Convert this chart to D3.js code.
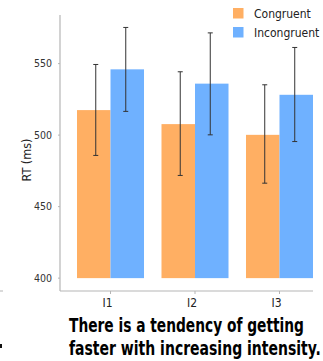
<!DOCTYPE html>
<head>
<meta charset="utf-8">
<style>
body { margin: 0; background: #fff; }
text { font-family: "DejaVu Sans Condensed", "DejaVu Sans", sans-serif; font-stretch: condensed; }
</style>
</head>
<body>
<script src="https://d3js.org/d3.v7.min.js"></script>
<script>
var width = 323, height = 361;

// data
var groups = ["I1", "I2", "I3"];
var series = ["Congruent", "Incongruent"];
var means = {
  Congruent:   [517.5, 507.7, 500.2],
  Incongruent: [546.0, 536.0, 528.2]
};
var errLow = {
  Congruent:   [485.8, 471.8, 466.4],
  Incongruent: [516.6, 500.2, 495.5]
};
var errHigh = {
  Congruent:   [549.4, 544.3, 535.2],
  Incongruent: [575.3, 571.5, 561.3]
};
var yTicks = [400, 450, 500, 550];
var colors = ["#FFAF63", "#6FB1FF"];
var caption = ["There is a tendency of getting", "faster with increasing intensity."];
var captionWidths = [235, 252];

var svg = d3.select("body").append("svg")
  .attr("width", width).attr("height", height);

var y = d3.scaleLinear().domain([391, 584]).range([291, 15]);
var x = d3.scaleBand().domain(groups).range([77, 313]).paddingInner(0.207).paddingOuter(0);
var xs = d3.scaleBand().domain(series).range([0, x.bandwidth()]);
var col = d3.scaleOrdinal().domain(series).range(colors);

// axes lines
svg.append("line").attr("x1", 60).attr("x2", 60).attr("y1", 15).attr("y2", 291)
  .attr("stroke", "#b5b5b5").attr("stroke-width", 1.2);
svg.append("line").attr("x1", 60).attr("x2", 313).attr("y1", 291).attr("y2", 291)
  .attr("stroke", "#b5b5b5").attr("stroke-width", 1.2);

// y tick labels
svg.selectAll(".ytick").data(yTicks).enter().append("text")
  .attr("x", 52).attr("y", function(d){ return y(d); })
  .attr("dy", "0.35em").attr("text-anchor", "end")
  .attr("font-size", 10.5).attr("fill", "#333")
  .text(function(d){ return d; });
svg.selectAll(".ytickm").data(yTicks).enter().append("line")
  .attr("x1", 58).attr("x2", 60).attr("y1", function(d){ return y(d); }).attr("y2", function(d){ return y(d); })
  .attr("stroke", "#b5b5b5");

// x tick labels
var g = svg.selectAll(".grp").data(groups).enter().append("g")
  .attr("transform", function(d){ return "translate(" + x(d) + ",0)"; });
g.append("line").attr("x1", x.bandwidth()/2).attr("x2", x.bandwidth()/2)
  .attr("y1", 291).attr("y2", 294).attr("stroke", "#b5b5b5");
g.append("text").attr("x", x.bandwidth()/2 - 3).attr("y", 307)
  .attr("text-anchor", "middle").attr("font-size", 12).attr("fill", "#222")
  .text(function(d){ return d; });

// bars
series.forEach(function(s){
  var rows = groups.map(function(gr, i){
    return {g: gr, v: means[s][i]};
  });
  svg.selectAll(".bar-" + s).data(rows).enter().append("rect")
    .attr("x", function(d){ return x(d.g) + xs(s); })
    .attr("width", xs.bandwidth())
    .attr("y", function(d){ return y(d.v); })
    .attr("height", function(d){ return y(400) - y(d.v); })
    .attr("fill", col(s));
});

// error bars
series.forEach(function(s){
  var rows = groups.map(function(gr, i){
    return {g: gr, lo: errLow[s][i], hi: errHigh[s][i]};
  });
  var cx = function(d){ return x(d.g) + xs(s) + xs.bandwidth()/2 + (s === "Congruent" ? 2 : -1.5); };
  var eb = svg.selectAll(".err-" + s).data(rows).enter().append("g");
  eb.append("line").attr("x1", cx).attr("x2", cx)
    .attr("y1", function(d){ return y(d.lo); }).attr("y2", function(d){ return y(d.hi); })
    .attr("stroke", "#333").attr("stroke-width", 1);
  ["lo", "hi"].forEach(function(k){
    eb.append("line")
      .attr("x1", function(d){ return cx(d) - 2.5; }).attr("x2", function(d){ return cx(d) + 2.5; })
      .attr("y1", function(d){ return y(d[k]); }).attr("y2", function(d){ return y(d[k]); })
      .attr("stroke", "#333").attr("stroke-width", 1);
  });
});

// y label
svg.append("text").attr("transform", "translate(31,160) rotate(-90)")
  .attr("text-anchor", "middle").attr("font-size", 12.5).attr("fill", "#222")
  .text("RT (ms)");

// legend
var leg = svg.selectAll(".leg").data(series).enter().append("g")
  .attr("transform", function(d, i){ return "translate(233," + (8 + i * 19) + ")"; });
leg.append("rect").attr("width", 10.5).attr("height", 10.5).attr("fill", function(d){ return col(d); });
leg.append("text").attr("x", 21).attr("y", 9.5).attr("font-size", 12).attr("fill", "#222")
  .text(function(d){ return d; });

// caption: squeeze horizontally with a transform so it fits like the original
svg.selectAll(".cap").data(caption).enter().append("text")
  .attr("font-size", 19).attr("font-weight", "bold").attr("fill", "#000")
  .text(function(d){ return d; })
  .each(function(d, i){
    var w = this.getComputedTextLength();
    var sx = captionWidths[i] / w;
    d3.select(this).attr("transform", "translate(69," + (332 + i * 23) + ") scale(" + sx + ",1)");
  });

// bits of the neighbouring panel showing at the left edge
svg.append("line").attr("x1", 0).attr("x2", 3).attr("y1", 291).attr("y2", 291).attr("stroke", "#b5b5b5");
svg.append("rect").attr("x", 0).attr("y", 344).attr("width", 2).attr("height", 4).attr("fill", "#111");
</script>
</body>
